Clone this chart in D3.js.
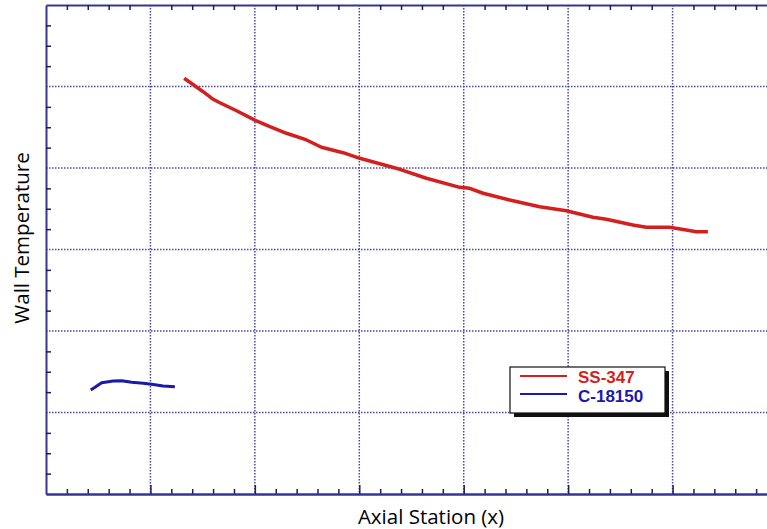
<!DOCTYPE html>
<html>
<head>
<meta charset="utf-8">
<script src="https://cdnjs.cloudflare.com/ajax/libs/d3/7.8.5/d3.min.js"></script>
<style>
  body { margin: 0; background: #fff; }
  .axis-label { font-family: "Open Sans", sans-serif; font-size: 20.5px; fill: #000; }
  .legend-text { font-family: "Liberation Sans", Arial, sans-serif; font-size: 17px; font-weight: bold; }
</style>
</head>
<body>
<svg id="chart"></svg>
<script>
// Series: axial station (grid units) vs wall temperature (grid units)
var ssX = [1.323, 1.505, 1.601, 1.665, 1.825, 2.010, 2.144, 2.303, 2.495, 2.638, 2.845, 3.005,
           3.388, 3.643, 3.962, 4.057, 4.185, 4.440, 4.727, 4.983, 5.237, 5.366, 5.620, 5.748,
           5.971, 6.131, 6.227, 6.338];
var ssY = [5.101, 4.936, 4.843, 4.801, 4.703, 4.580, 4.507, 4.426, 4.344, 4.254, 4.188, 4.119,
           3.984, 3.874, 3.763, 3.751, 3.690, 3.607, 3.525, 3.476, 3.395, 3.371, 3.301, 3.272,
           3.272, 3.239, 3.218, 3.218];
var cX = [0.428, 0.469, 0.533, 0.644, 0.724, 0.820, 0.931, 1.011, 1.122, 1.234];
var cY = [1.276, 1.309, 1.366, 1.387, 1.390, 1.371, 1.358, 1.346, 1.325, 1.317];

var seriesNames = ["SS-347", "C-18150"];
var seriesColors = ["#d41f1f", "#1a1aa8"];

var xMajor = [1, 2, 3, 4, 5, 6];
var yMajor = [1, 2, 3, 4, 5];

var margin = {top: 5, right: -10, bottom: 35, left: 46};
var W = 767, H = 529;
var width = 731, height = 489;

var svg = d3.select("#chart").attr("width", W).attr("height", H);
var g = svg.append("g").attr("transform", "translate(" + margin.left + "," + margin.top + ")");

var x = d3.scaleLinear().domain([0, 7]).range([0, width]);
var y = d3.scaleLinear().domain([0, 6]).range([height, 0]);

var axisColor = "#34349a";

//Minor ticks every 1/5 (x) and 1/4 (y) of a grid cell
var xMinor = d3.range(0, 7.001, 0.2).filter(function(d){ return Math.abs(d - Math.round(d)) > 0.01; });
var yMinor = d3.range(0, 6.001, 0.25).filter(function(d){ return Math.abs(d - Math.round(d)) > 0.01; });

//Grid
g.selectAll(".vgrid").data(xMajor).enter().append("line")
  .attr("x1", function(d){ return x(d); }).attr("x2", function(d){ return x(d); })
  .attr("y1", 0).attr("y2", height)
  .style("stroke", "#4747a6").style("stroke-width", 1.5).style("stroke-dasharray", "1.5,1.5");
g.selectAll(".hgrid").data(yMajor).enter().append("line")
  .attr("x1", 0).attr("x2", width)
  .attr("y1", function(d){ return y(d); }).attr("y2", function(d){ return y(d); })
  .style("stroke", "#4747a6").style("stroke-width", 1.5).style("stroke-dasharray", "1.5,1.5");

//Axes (ticks point inward)
function styleAxis(sel){
  sel.select(".domain").style("stroke", axisColor).style("stroke-width", 2);
  sel.selectAll(".tick line").style("stroke", "#1e1e55").style("stroke-width", 1.5);
}
g.append("g").attr("transform", "translate(0," + height + ")")
  .call(d3.axisBottom(x).tickValues(xMinor).tickSize(-5).tickSizeOuter(0).tickFormat(""))
  .call(styleAxis);
g.append("g").attr("transform", "translate(0," + height + ")")
  .call(d3.axisBottom(x).tickValues(xMajor).tickSize(-9).tickSizeOuter(0).tickFormat(""))
  .call(styleAxis);
g.append("g")
  .call(d3.axisTop(x).tickValues(xMinor).tickSize(-5).tickSizeOuter(0).tickFormat(""))
  .call(styleAxis);
g.append("g")
  .call(d3.axisLeft(y).tickValues(yMinor).tickSize(-5).tickSizeOuter(0).tickFormat(""))
  .call(styleAxis);

//Lines
var line = d3.line()
  .x(function(d){ return x(d[0]); })
  .y(function(d){ return y(d[1]); });

var ssData = ssX.map(function(d, i){ return [d, ssY[i]]; });
var cData = cX.map(function(d, i){ return [d, cY[i]]; });

g.append("path").datum(ssData).attr("d", line)
  .style("fill", "none").style("stroke", seriesColors[0]).style("stroke-width", 3.5)
  .style("stroke-linejoin", "round");
g.append("path").datum(cData).attr("d", line)
  .style("fill", "none").style("stroke", seriesColors[1]).style("stroke-width", 3)
  .style("stroke-linejoin", "round");

//Legend
var lg = svg.append("g").attr("transform", "translate(510,367)");
lg.append("rect").attr("x", 4).attr("y", 4).attr("width", 155).attr("height", 46).style("fill", "#111");
lg.append("rect").attr("x", 0).attr("y", 0).attr("width", 155).attr("height", 46)
  .style("fill", "#fff").style("stroke", "#111").style("stroke-width", 1.2);
seriesNames.forEach(function(name, i){
  lg.append("line").attr("x1", 10).attr("x2", 57).attr("y1", 9 + i * 18).attr("y2", 9 + i * 18)
    .style("stroke", seriesColors[i]).style("stroke-width", 2);
  lg.append("text").attr("class", "legend-text").attr("x", 68).attr("y", 16 + i * 18.5)
    .style("fill", seriesColors[i]).text(name);
});

//Axis labels
svg.append("text").attr("class", "axis-label")
  .attr("transform", "translate(29,238) rotate(-90)")
  .attr("text-anchor", "middle").text("Wall Temperature");
svg.append("text").attr("class", "axis-label")
  .attr("x", 431).attr("y", 524)
  .attr("text-anchor", "middle").text("Axial Station (x)");
</script>
</body>
</html>
